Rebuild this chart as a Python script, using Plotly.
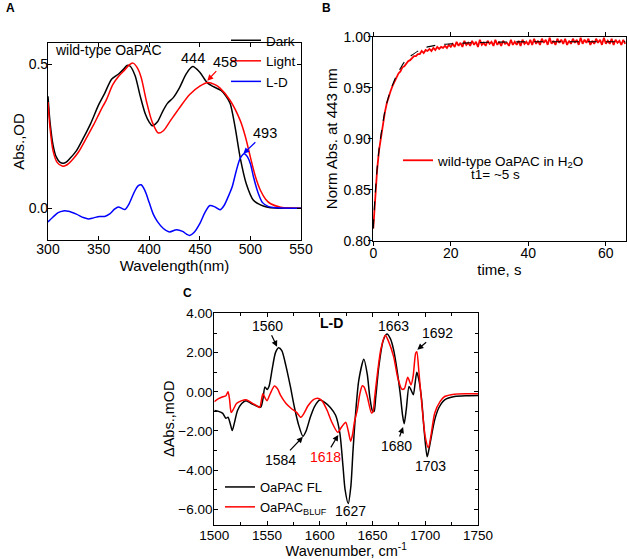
import plotly.graph_objects as go

# ---------------- Panel A data ----------------
dark_wl = [300, 302, 305, 308, 312, 315, 318, 322, 328, 335, 342, 350, 356, 363, 370, 375, 378, 381, 386, 391, 396, 400, 403, 408, 413, 418, 424, 430, 437, 443, 450, 457, 463, 471, 476, 480, 485, 490, 496, 503, 510, 516, 525, 550]
dark_abs = [0.39, 0.30, 0.22, 0.18, 0.160, 0.157, 0.161, 0.175, 0.20, 0.245, 0.294, 0.36, 0.40, 0.45, 0.468, 0.485, 0.497, 0.495, 0.462, 0.392, 0.33, 0.30, 0.287, 0.30, 0.335, 0.365, 0.386, 0.42, 0.47, 0.493, 0.473, 0.438, 0.424, 0.41, 0.39, 0.365, 0.28, 0.175, 0.085, 0.028, 0.012, 0.005, 0.001, 0.0]

light_wl = [300, 302, 305, 309, 314, 318, 323, 330, 338, 345, 352, 358, 364, 370, 376, 380, 384, 388, 392, 397.5, 403, 409, 414, 420, 430, 440, 450, 458, 465, 470, 480, 490, 495, 500, 505, 510, 515, 520, 530, 540, 550]
light_abs = [0.37, 0.28, 0.20, 0.16, 0.147, 0.150, 0.165, 0.195, 0.245, 0.29, 0.34, 0.38, 0.43, 0.46, 0.482, 0.498, 0.505, 0.49, 0.456, 0.369, 0.30, 0.262, 0.27, 0.30, 0.35, 0.396, 0.425, 0.438, 0.43, 0.418, 0.375, 0.305, 0.25, 0.178, 0.11, 0.062, 0.032, 0.016, 0.004, 0.001, 0.0]

ld_wl = [300, 305, 310, 315, 320, 328, 335, 340, 345, 351, 356, 361, 366, 369.5, 373, 376, 380, 385, 389, 392, 396, 400, 404, 408, 414, 420, 427, 433, 437, 440, 444, 450, 455, 460, 465, 470, 474, 478, 482, 486, 490, 494, 497, 500, 503, 507, 512, 518, 526, 550]
ld_abs = [-0.047, -0.03, -0.015, -0.009, -0.01, -0.02, -0.032, -0.037, -0.033, -0.028, -0.028, -0.019, -0.002, 0.005, 0.0, -0.004, 0.015, 0.055, 0.078, 0.082, 0.06, 0.02, -0.02, -0.045, -0.07, -0.082, -0.074, -0.08, -0.09, -0.094, -0.085, -0.053, -0.015, 0.01, 0.005, -0.005, 0.01, 0.04, 0.075, 0.13, 0.175, 0.19, 0.18, 0.155, 0.11, 0.06, 0.02, 0.006, 0.002, 0.0]

# ---------------- Panel B data ----------------
red_t0 = 0.0
red_dt = 0.5
red_norm = [0.812, 0.846, 0.870, 0.889, 0.903, 0.916, 0.926, 0.935, 0.942, 0.947, 0.952, 0.956, 0.960, 0.964, 0.966, 0.970, 0.971, 0.974, 0.976, 0.977,
            0.979, 0.981, 0.981, 0.983, 0.983, 0.986, 0.984, 0.987, 0.986, 0.988, 0.986, 0.989, 0.987, 0.990, 0.988, 0.990, 0.989, 0.991, 0.989, 0.992, 0.990,
            0.993, 0.990, 0.995, 0.991, 0.994, 0.990, 0.996, 0.992, 0.994, 0.991, 0.996, 0.992, 0.995, 0.990, 0.997, 0.992, 0.994, 0.991, 0.996, 0.993,
            0.995, 0.991, 0.997, 0.992, 0.995, 0.991, 0.996, 0.993, 0.994, 0.991, 0.997, 0.992, 0.995, 0.992, 0.996, 0.991, 0.997, 0.993, 0.995, 0.992,
            0.997, 0.992, 0.998, 0.993, 0.996, 0.992, 0.998, 0.994, 0.997, 0.992, 0.999, 0.993, 0.996, 0.992, 0.998, 0.994, 0.997, 0.993, 0.998, 0.992,
            0.996, 0.993, 0.998, 0.994, 0.997, 0.992, 0.999, 0.993, 0.997, 0.994, 0.998, 0.992, 0.996, 0.993, 0.998, 0.994, 0.997, 0.992, 0.999, 0.993,
            0.996, 0.993, 0.998, 0.992, 0.997, 0.994, 0.996, 0.992, 0.997, 0.993]
fit_t = [0, 0.5, 1, 1.5, 2, 3, 4, 5, 6, 7, 8, 9, 10, 12, 14, 16, 18, 20, 25, 30, 40, 50, 65]
fit_norm = [0.812, 0.846, 0.871, 0.890, 0.904, 0.927, 0.942, 0.953, 0.962, 0.969, 0.975, 0.979, 0.982, 0.987, 0.990, 0.9915, 0.9925, 0.993, 0.994, 0.9945, 0.995, 0.995, 0.995]

# ---------------- Panel C data ----------------
fl_wn = [1500, 1504, 1508, 1511, 1513, 1515, 1517, 1519, 1522, 1526, 1530, 1535, 1540, 1544, 1546, 1548, 1550, 1552, 1555, 1558, 1561, 1564, 1568, 1572, 1576, 1580, 1584, 1587, 1591, 1595, 1600, 1605, 1610, 1615, 1619, 1622, 1624, 1627, 1629.5, 1631.5, 1634, 1637, 1641.8, 1645, 1647.5, 1650, 1651.5, 1653, 1656, 1660, 1663.7, 1667, 1670, 1673, 1676.2, 1678.5, 1680, 1682, 1684.6, 1686.5, 1688.7, 1690.5, 1692, 1694, 1696.6, 1699, 1701.8, 1704, 1709, 1713, 1718.4, 1727.8, 1740, 1750]
fl_dabs = [-0.95, -1.0, -1.1, -1.35, -1.3, -1.6, -1.98, -1.6, -0.95, -0.6, -0.45, -0.6, -0.72, -0.78, -0.4, 0.25, 0.12, 0.3, 1.2, 2.0, 2.25, 2.1, 1.3, 0.3, -0.8, -1.7, -2.27, -2.0, -1.3, -0.75, -0.42, -0.55, -0.8, -1.2, -2.1, -3.8, -5.0, -5.7, -4.8, -3.0, -1.07, 0.6, 1.66, 0.9, -0.3, -0.98, -1.0, -0.3, 1.3, 2.6, 2.95, 2.7, 2.14, 1.2, -0.07, -1.2, -1.63, -0.9, 0.27, 0.1, -0.15, 0.5, 1.0, 0.6, -0.41, -2.0, -3.32, -2.8, -1.42, -0.8, -0.41, -0.24, -0.2, -0.19]

bluf_wn = [1500, 1504, 1508, 1511, 1513, 1514.5, 1516, 1518, 1521, 1526, 1530, 1535, 1540, 1543, 1546, 1548, 1550, 1553, 1557, 1560, 1563, 1568, 1573, 1578, 1582, 1585, 1589, 1594, 1598, 1602, 1607, 1611, 1617, 1620, 1622, 1624.6, 1627, 1629.3, 1631, 1633, 1635.6, 1638, 1640.3, 1642, 1645, 1649, 1650.5, 1652, 1654.3, 1658, 1662.1, 1665, 1670, 1674, 1677.8, 1680.2, 1683.4, 1686.5, 1688.5, 1690.9, 1692, 1694, 1697, 1700, 1703, 1705.5, 1709, 1714, 1718.4, 1727.8, 1740, 1750]
bluf_dabs = [-0.5, -0.35, -0.25, -0.2, 0.0, -0.4, -1.05, -0.9, -0.6, -0.45, -0.4, -0.55, -0.7, -0.8, -0.1, -0.3, -0.45, -0.1, 0.3, 0.15, -0.2, -0.6, -0.85, -1.05, -1.3, -1.1, -0.7, -0.4, -0.33, -0.45, -0.95, -1.5, -2.07, -1.85, -1.7, -1.55, -2.0, -2.52, -2.2, -1.5, -0.92, -0.1, 0.31, 0.25, -0.24, -1.08, -1.0, -0.3, 0.78, 2.2, 2.89, 2.6, 1.8, 0.7, 0.14, 0.16, 0.75, 0.36, 0.8, 1.97, 2.05, 1.0, -0.8, -2.3, -2.86, -2.2, -1.08, -0.5, -0.24, -0.12, -0.1, -0.1]

FONT = "Liberation Sans, Arial, sans-serif"
W, H = 627, 559

def px(x):
    return x / W

def py(y):
    return 1 - y / H

fig = go.Figure()

# Panel A
fig.add_trace(go.Scatter(x=dark_wl, y=dark_abs, mode="lines", name="Dark", line=dict(color="black", width=1.5, shape="spline", smoothing=0.8), xaxis="x", yaxis="y", legend="legend"))
fig.add_trace(go.Scatter(x=light_wl, y=light_abs, mode="lines", name="Light", line=dict(color="#ff0000", width=1.5, shape="spline", smoothing=0.8), xaxis="x", yaxis="y", legend="legend"))
fig.add_trace(go.Scatter(x=ld_wl, y=ld_abs, mode="lines", name="L-D", line=dict(color="#0000ff", width=1.5, shape="spline", smoothing=0.8), xaxis="x", yaxis="y", legend="legend"))

# Panel B
fig.add_trace(go.Scatter(x0=red_t0, dx=red_dt, y=red_norm, mode="lines", name="wild-type OaPAC in H<sub>2</sub>O", line=dict(color="#ff0000", width=1.8), xaxis="x2", yaxis="y2", legend="legend2"))
fig.add_trace(go.Scatter(x=fit_t, y=fit_norm, mode="lines", name="fit", showlegend=False, line=dict(color="black", width=1.1, dash="dash", shape="spline"), xaxis="x2", yaxis="y2"))

# Panel C
fig.add_trace(go.Scatter(x=fl_wn, y=fl_dabs, mode="lines", name="OaPAC FL", line=dict(color="black", width=1.5, shape="spline", smoothing=0.7), xaxis="x3", yaxis="y3", legend="legend3"))
fig.add_trace(go.Scatter(x=bluf_wn, y=bluf_dabs, mode="lines", name="OaPAC<sub>BLUF</sub>", line=dict(color="#ff0000", width=1.5, shape="spline", smoothing=0.7), xaxis="x3", yaxis="y3", legend="legend3"))

axis_common = dict(showline=True, linecolor="black", linewidth=1.2, mirror="ticks", ticklen=4, tickcolor="black",
                   showgrid=False, zeroline=False, automargin=False)

fig.update_layout(
    width=W, height=H, margin=dict(l=0, r=0, t=0, b=0),
    paper_bgcolor="white", plot_bgcolor="white",
    font=dict(family=FONT, color="black", size=14),
    xaxis=dict(domain=[px(48), px(301)], range=[300, 550], dtick=50, ticks="inside", anchor="y", ticklabelstandoff=-4,
               title=dict(text="Wavelength(nm)", standoff=0, font=dict(size=15)), tickfont=dict(size=14), **axis_common),
    yaxis=dict(domain=[py(240), py(43)], range=[-0.11, 0.575], tickvals=[0, 0.5], tickformat=".1f", ticks="inside", anchor="x", ticklabelstandoff=-4,
               title=dict(text="Abs.,OD", standoff=0, font=dict(size=15)), tickfont=dict(size=14), **axis_common),
    xaxis2=dict(domain=[px(372.7), px(626)], range=[-0.15, 65.2], tickvals=[0, 20, 40, 60], ticks="outside", anchor="y2", ticklabelstandoff=-5,
                title=dict(text="time, s", standoff=0, font=dict(size=15)), tickfont=dict(size=14), **axis_common),
    yaxis2=dict(domain=[py(240.7), py(36.7)], range=[0.80, 1.00], dtick=0.05, tickformat=".2f", ticks="outside", anchor="x2", ticklabelstandoff=-6,
                title=dict(text="Norm Abs. at 443 nm", standoff=2, font=dict(size=15)), tickfont=dict(size=14), **axis_common),
    xaxis3=dict(domain=[px(214.3), px(478)], range=[1500, 1750], dtick=50, ticks="inside", anchor="y3", ticklabelstandoff=-2,
                minor=dict(ticks="inside", ticklen=3, dtick=25, tickcolor="black"),
                title=dict(text="Wavenumber, cm<sup>-1</sup>", standoff=1, font=dict(size=14.5)), tickfont=dict(size=13.5), **axis_common),
    yaxis3=dict(domain=[py(525), py(312.5)], range=[-6.8, 4.05], dtick=2, tickformat=".2f", ticks="inside", anchor="x3", ticklabelstandoff=-2,
                minor=dict(ticks="inside", ticklen=3, dtick=1, tickcolor="black"),
                title=dict(text="ΔAbs.,mOD", standoff=0, font=dict(size=14.5)), tickfont=dict(size=13.5), **axis_common),
    legend=dict(x=px(226), y=py(25), xanchor="left", yanchor="top", bgcolor="rgba(0,0,0,0)", font=dict(size=13.5)),
    legend2=dict(x=px(398), y=py(145), xanchor="left", yanchor="top", bgcolor="rgba(0,0,0,0)", font=dict(size=13.5)),
    legend3=dict(x=px(220), y=py(472), xanchor="left", yanchor="top", bgcolor="rgba(0,0,0,0)", font=dict(size=13)),
)

ann = []
# panel letters
for letter, (lx, ly) in {"A": (10, 8), "B": (327, 8), "C": (188, 293)}.items():
    ann.append(dict(text=f"<b>{letter}</b>", x=px(lx), y=py(ly), xref="paper", yref="paper", showarrow=False, font=dict(size=12), xanchor="center", yanchor="middle"))

# panel A annotations
ann.append(dict(text="wild-type OaPAC", x=305, y=0.551, xref="x", yref="y", showarrow=False, xanchor="left", font=dict(size=14)))
ann.append(dict(text="444", x=443.6, y=0.524, xref="x", yref="y", showarrow=False, font=dict(size=14.5)))
ann.append(dict(text="458", x=457.4, y=0.444, xref="x", yref="y", showarrow=True, ax=18, ay=-19, arrowcolor="#ff0000", arrowhead=2, arrowsize=1, arrowwidth=1.2, font=dict(size=14.5)))
ann.append(dict(text="493", x=493, y=0.19, xref="x", yref="y", showarrow=True, ax=22, ay=-21, arrowcolor="#0000ff", arrowhead=2, arrowsize=1, arrowwidth=1.2, font=dict(size=14.5)))

# panel B annotation
ann.append(dict(text="t1= ~5 s", x=px(495), y=py(175), xref="paper", yref="paper", showarrow=False, xanchor="center", yanchor="middle", font=dict(size=13.5)))

# panel C annotations
ann.append(dict(text="<b>L-D</b>", x=1611.3, y=3.49, xref="x3", yref="y3", showarrow=False, font=dict(size=14)))
ann.append(dict(text="1663", x=1669.7, y=3.36, xref="x3", yref="y3", showarrow=False, font=dict(size=14)))
ann.append(dict(text="1627", x=1628.7, y=-6.08, xref="x3", yref="y3", showarrow=False, font=dict(size=14)))
ann.append(dict(text="1703", x=1704.5, y=-3.8, xref="x3", yref="y3", showarrow=False, font=dict(size=14)))
arrow_c = [("1560", 1559.5, 2.3, -10, -21, "black"),
           ("1584", 1584, -2.3, -22, 23, "black"),
           ("1618", 1617.5, -2.2, -13, 22, "#ff0000"),
           ("1680", 1679, -1.8, -7, 19, "black"),
           ("1692", 1692.5, 2.15, 20, -17, "black")]
for txt, ax_, ay_, dx, dy, tc in arrow_c:
    ann.append(dict(text=txt, x=ax_, y=ay_, xref="x3", yref="y3", showarrow=True, ax=dx, ay=dy, arrowcolor="black",
                    arrowhead=2, arrowsize=1, arrowwidth=1.2, font=dict(size=14, color=tc)))

fig.update_layout(annotations=ann)
fig.write_html("out.html", config={"displayModeBar": False},
               post_script="document.body.style.margin='0';document.body.style.padding='0';")
